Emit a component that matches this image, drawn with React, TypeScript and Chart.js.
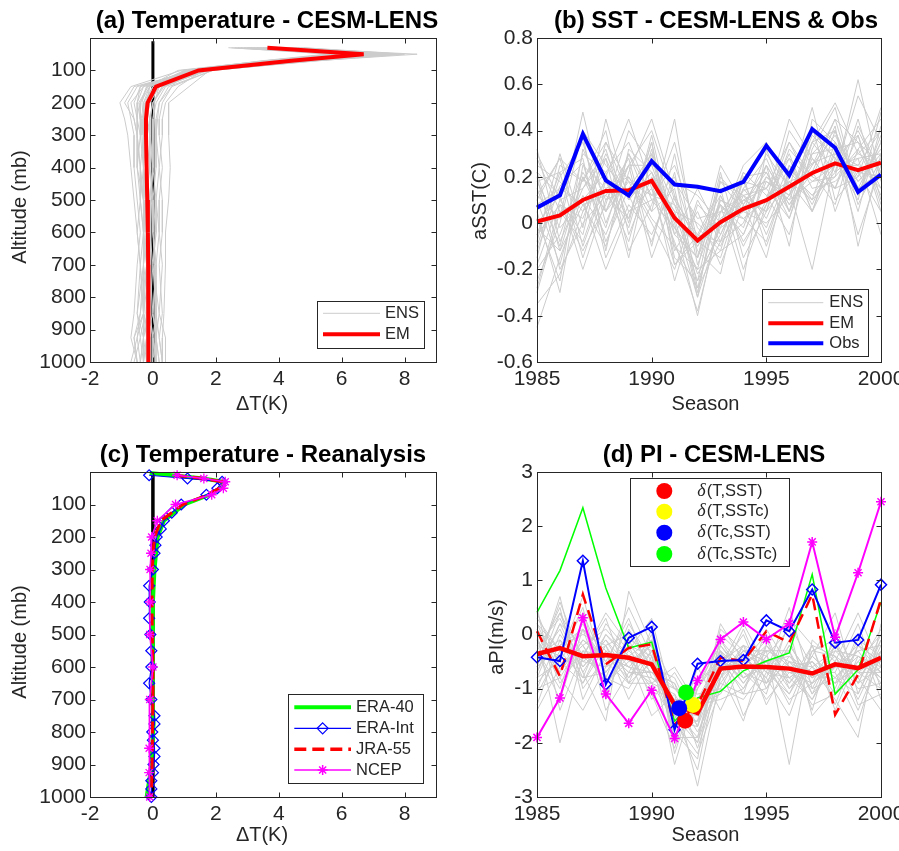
import React, { useEffect, useRef } from 'react';
import { Chart, registerables } from 'chart.js';

Chart.register(...registerables);

const W = 899;
const H = 851;
const FONT = "'Liberation Sans', Arial, Helvetica, sans-serif";
const SERIF = "'Liberation Serif', 'DejaVu Serif', serif";
const AXIS = '#262626';
const GREY = '#cccccc';
const YW = 60;
const XH = 40;
const TICK_SIZE = 21;

// ---------------- Panel (a): Temperature - CESM-LENS ----------------
const levelsA = [30, 50, 70, 100, 150, 200, 250, 300, 400, 500, 600, 700, 850, 925, 1000];
const emA = [3.64, 6.7, 4.4, 1.45, 0.1, -0.17, -0.22, -0.22, -0.2, -0.18, -0.16, -0.15, -0.15, -0.14, -0.14];
const ensA = [
  [2.4, 6.0, 3.8, 1.0, -0.1, -0.3, -0.3, -0.3, -0.2, -0.2, -0.1, -0.2, -0.3, -0.1, -0.2],
  [3.0, 7.2, 4.9, 1.7, 0.3, 0.0, -0.1, -0.1, 0.0, -0.1, -0.2, -0.1, 0.0, -0.2, -0.1],
  [4.2, 8.4, 5.2, 1.9, 0.5, 0.2, 0.1, 0.1, 0.1, 0.0, 0.0, 0.1, 0.1, 0.2, 0.3],
  [3.5, 6.4, 4.1, 1.2, -0.4, -0.6, -0.5, -0.5, -0.4, -0.4, -0.3, -0.3, -0.4, -0.5, -0.4],
  [3.9, 7.0, 4.6, 1.5, 0.2, -0.1, -0.2, -0.2, -0.1, -0.2, -0.1, 0.0, -0.1, 0.0, 0.1],
  [2.8, 5.8, 3.6, 0.9, -0.7, -1.05, -0.9, -0.8, -0.7, -0.6, -0.5, -0.4, -0.3, -0.6, -0.5],
  [4.6, 7.6, 5.0, 1.8, 1.15, 0.5, 0.5, 0.5, 0.55, 0.5, 0.4, 0.4, 0.35, 0.3, 0.3],
  [3.2, 6.8, 4.3, 1.4, 0.0, -0.2, -0.3, -0.2, -0.3, -0.3, -0.2, -0.2, -0.2, -0.3, -0.2],
  [3.7, 6.2, 4.5, 1.3, -0.2, -0.4, -0.4, -0.4, -0.3, -0.2, -0.3, -0.2, -0.1, -0.2, -0.3],
  [4.0, 7.4, 4.8, 1.6, 0.4, 0.1, 0.0, 0.0, -0.1, 0.0, 0.1, 0.0, 0.1, 0.1, 0.0],
  [2.6, 6.6, 3.9, 1.1, -0.3, -0.5, -0.5, -0.4, -0.5, -0.3, -0.2, -0.3, -0.5, -0.4, -0.6],
  [3.4, 7.8, 4.7, 1.6, 0.1, -0.2, -0.1, -0.2, -0.2, -0.1, -0.1, -0.2, -0.2, -0.1, -0.1],
  [4.4, 6.9, 4.2, 1.3, -0.5, -0.8, -0.7, -0.6, -0.6, -0.5, -0.4, -0.5, -0.6, -0.7, -0.5],
  [3.1, 5.5, 3.5, 1.0, 0.6, 0.3, 0.2, 0.2, 0.3, 0.2, 0.2, 0.3, 0.2, 0.4, 0.4],
  [3.8, 7.1, 4.4, 1.5, 0.0, -0.3, -0.3, -0.3, -0.2, -0.3, -0.2, -0.1, -0.2, -0.2, -0.3],
  [2.9, 6.3, 4.0, 1.2, 0.3, 0.0, -0.1, -0.1, -0.1, 0.0, 0.0, 0.1, 0.0, 0.1, 0.2],
  [4.8, 8.0, 5.3, 1.8, 0.2, -0.1, -0.2, -0.1, 0.0, -0.1, -0.1, -0.1, -0.1, 0.0, 0.0],
  [3.3, 6.5, 4.1, 1.4, -0.6, -0.9, -0.6, -0.5, -0.5, -0.4, -0.5, -0.4, -0.3, -0.5, -0.7],
  [3.6, 7.3, 4.6, 1.6, 0.8, 0.4, 0.3, 0.3, 0.2, 0.3, 0.3, 0.2, 0.3, 0.2, 0.3],
  [4.1, 6.1, 4.0, 1.1, -0.1, -0.4, -0.4, -0.3, -0.4, -0.3, -0.3, -0.3, -0.3, -0.3, -0.4],
  [3.0, 6.7, 4.2, 1.3, -0.2, -0.35, -0.3, -0.3, -0.3, -0.2, -0.2, -0.1, -0.3, -0.2, -0.2],
  [4.3, 7.5, 4.9, 1.7, 0.1, -0.15, -0.2, -0.2, -0.2, -0.3, -0.2, -0.3, -0.1, -0.3, -0.4],
  [2.7, 6.2, 3.7, 1.0, 0.2, 0.05, 0.0, 0.0, 0.0, 0.1, 0.1, 0.0, 0.2, 0.1, 0.1],
  [3.5, 6.9, 4.5, 1.5, -0.3, -0.7, -0.6, -0.5, -0.4, -0.3, -0.3, -0.4, -0.5, -0.3, -0.3],
  [4.5, 7.9, 5.1, 1.9, 0.6, 0.2, 0.15, 0.1, 0.2, 0.1, 0.2, 0.1, 0.0, 0.1, 0.2],
  [3.9, 6.0, 3.9, 1.2, -0.4, -0.5, -0.4, -0.3, -0.3, -0.4, -0.3, -0.2, -0.4, -0.6, -0.5],
  [3.3, 7.0, 4.4, 1.4, 0.0, -0.25, -0.25, -0.25, -0.2, -0.2, -0.15, -0.2, -0.2, -0.2, -0.1],
  [2.5, 5.7, 3.6, 0.8, -0.15, -0.45, -0.35, -0.3, -0.2, -0.1, -0.1, -0.1, -0.2, -0.1, -0.2],
  [4.7, 7.7, 5.2, 1.7, 0.35, 0.0, 0.05, 0.0, 0.0, -0.05, 0.0, 0.05, 0.1, 0.0, 0.1],
  [3.6, 6.6, 4.3, 1.3, -0.1, -0.2, -0.35, -0.35, -0.3, -0.25, -0.25, -0.3, -0.25, -0.4, -0.3],
];
const zeroLevels = [10, 1000];
const zeroX = [0, 0];

// ---------------- Panel (b): SST ----------------
const years = [1985, 1986, 1987, 1988, 1989, 1990, 1991, 1992, 1993, 1994, 1995, 1996, 1997, 1998, 1999, 2000];
const emB = [0.007, 0.033, 0.10, 0.139, 0.142, 0.183, 0.022, -0.075, 0.004, 0.062, 0.099, 0.157, 0.217, 0.258, 0.229, 0.261];
const obsB = [0.067, 0.12, 0.385, 0.185, 0.12, 0.268, 0.167, 0.157, 0.138, 0.178, 0.335, 0.207, 0.406, 0.326, 0.135, 0.21];
const ensB = [
  [0.25, 0.18, 0.05, 0.30, 0.10, 0.22, -0.05, -0.15, 0.10, 0.05, 0.20, 0.12, 0.35, 0.22, 0.30, 0.40],
  [-0.20, -0.05, 0.22, 0.05, 0.30, 0.12, 0.08, -0.22, -0.05, 0.15, 0.02, 0.25, 0.10, 0.40, 0.15, 0.22],
  [0.10, 0.28, -0.10, 0.18, 0.02, 0.35, -0.12, 0.05, -0.18, 0.08, 0.22, 0.05, 0.28, 0.15, 0.45, 0.10],
  [-0.45, -0.15, 0.12, -0.05, 0.20, 0.05, 0.15, -0.30, 0.12, -0.10, 0.10, 0.30, 0.05, 0.35, 0.20, 0.32],
  [0.05, -0.30, 0.25, 0.15, -0.08, 0.28, 0.02, -0.10, 0.05, 0.18, -0.05, 0.20, 0.40, 0.28, 0.10, 0.48],
  [0.30, 0.10, -0.05, 0.35, 0.18, 0.00, -0.20, 0.10, -0.08, 0.00, 0.25, 0.08, 0.22, 0.45, 0.35, 0.15],
  [-0.10, 0.20, 0.35, 0.00, 0.25, 0.40, 0.10, -0.05, 0.15, -0.20, 0.08, 0.35, 0.15, 0.18, 0.28, 0.30],
  [-0.30, 0.05, 0.10, -0.20, 0.05, 0.15, -0.08, -0.38, 0.02, 0.10, 0.15, 0.02, 0.30, 0.32, -0.05, 0.25],
  [0.15, -0.10, 0.30, 0.22, 0.35, 0.10, 0.20, -0.12, -0.22, 0.20, -0.10, 0.18, 0.10, 0.22, 0.55, 0.35],
  [0.00, 0.12, -0.20, 0.10, 0.15, 0.30, -0.15, -0.25, 0.18, 0.05, 0.30, 0.15, 0.50, 0.10, 0.22, 0.05],
  [-0.15, 0.25, 0.18, 0.40, -0.05, 0.20, 0.05, 0.00, -0.10, 0.12, 0.05, 0.40, 0.25, 0.38, 0.18, 0.28],
  [0.20, -0.20, 0.00, 0.12, 0.28, -0.10, 0.30, -0.18, 0.08, -0.05, 0.18, 0.10, 0.18, 0.25, 0.40, 0.20],
  [-0.25, 0.00, 0.40, 0.25, 0.12, 0.18, -0.25, 0.08, -0.02, 0.22, 0.12, -0.05, 0.32, 0.50, 0.12, 0.38],
  [0.08, 0.15, 0.08, -0.10, 0.22, 0.45, 0.12, -0.32, 0.20, 0.08, -0.15, 0.25, 0.08, 0.30, 0.25, 0.15],
  [0.32, -0.08, 0.15, 0.28, -0.12, 0.08, 0.35, -0.08, -0.15, 0.15, 0.28, 0.05, 0.42, 0.05, 0.32, 0.45],
  [-0.05, 0.08, -0.12, 0.08, 0.40, 0.25, -0.02, -0.20, 0.22, -0.15, 0.05, 0.32, 0.20, 0.42, -0.10, 0.30],
  [0.18, 0.22, 0.28, -0.15, 0.08, -0.05, 0.18, 0.12, 0.00, 0.25, 0.35, 0.15, -0.20, 0.28, 0.38, 0.08],
  [-0.35, -0.22, 0.05, 0.18, -0.02, 0.32, -0.10, -0.28, 0.10, 0.02, 0.10, 0.45, 0.28, 0.15, 0.20, 0.50],
  [0.12, 0.02, 0.48, 0.05, 0.18, 0.12, 0.25, -0.02, -0.12, -0.05, 0.20, 0.10, 0.35, 0.52, 0.30, 0.25],
  [-0.08, 0.30, -0.02, 0.45, 0.10, 0.22, 0.00, -0.40, 0.05, 0.12, -0.02, 0.22, 0.12, 0.20, 0.62, 0.18],
  [0.22, -0.12, 0.20, -0.02, 0.30, 0.05, 0.45, -0.15, 0.25, 0.08, 0.25, -0.10, 0.45, 0.35, 0.05, 0.42],
  [-0.18, 0.10, 0.15, 0.32, 0.00, 0.38, -0.05, 0.15, -0.05, 0.18, 0.15, 0.28, 0.05, 0.25, 0.28, -0.05],
  [0.02, -0.25, 0.32, 0.10, 0.25, -0.15, 0.12, -0.10, 0.08, -0.25, 0.32, 0.05, 0.30, 0.40, 0.15, 0.35],
  [0.28, 0.05, -0.08, 0.20, 0.45, 0.15, -0.18, -0.05, -0.08, 0.10, 0.05, 0.18, 0.22, 0.08, 0.42, 0.22],
  [-0.12, 0.16, 0.26, -0.08, 0.15, 0.18, 0.02, -0.32, 0.00, 0.14, 0.18, 0.12, 0.26, 0.30, 0.18, 0.30],
  [0.18, -0.02, 0.10, 0.22, -0.15, 0.30, 0.08, -0.06, 0.12, -0.08, 0.08, 0.28, 0.18, 0.20, 0.32, 0.12],
  [-0.05, 0.22, -0.15, 0.15, 0.20, 0.02, -0.10, -0.20, -0.12, 0.20, 0.22, 0.02, 0.35, 0.40, 0.08, 0.28],
  [0.10, -0.18, 0.20, 0.05, 0.25, 0.25, 0.18, 0.02, 0.05, 0.02, -0.08, 0.22, 0.12, 0.25, 0.25, 0.40],
  [-0.28, 0.08, 0.02, 0.28, 0.05, 0.10, -0.02, -0.15, 0.18, 0.12, 0.15, 0.35, 0.20, 0.15, 0.38, 0.05],
  [0.22, 0.12, 0.38, -0.12, 0.32, 0.22, 0.05, -0.25, -0.02, 0.05, 0.00, 0.12, 0.38, 0.28, 0.22, 0.20],
  [-0.02, -0.12, 0.08, 0.12, 0.02, 0.35, -0.18, -0.08, 0.08, -0.02, 0.25, 0.08, 0.25, 0.45, 0.12, 0.35],
  [0.12, 0.28, 0.18, 0.35, 0.12, -0.08, 0.22, -0.28, -0.08, 0.22, 0.12, 0.18, 0.05, 0.32, 0.35, 0.25],
];

// ---------------- Panel (c): Temperature - Reanalysis ----------------
const levelsEra40 = [3, 10, 20, 30, 50, 70, 100, 150, 200, 250, 300, 400, 500, 600, 700, 775, 850, 925, 1000];
const era40C = [-0.1, 0.6, 1.6, 2.25, 2.15, 1.8, 1.0, 0.35, 0.15, 0.1, 0.05, 0.0, -0.02, 0.0, 0.0, 0.02, -0.02, -0.08, -0.2];
const levelsEraInt = [10, 20, 30, 50, 70, 100, 125, 150, 175, 200, 225, 250, 300, 350, 400, 450, 500, 550, 600, 650, 700, 750, 775, 800, 825, 850, 875, 900, 925, 950, 975, 1000];
const eraIntC = [-0.12, 1.1, 2.2, 2.05, 1.7, 0.9, 0.6, 0.35, 0.25, 0.12, 0.08, 0.05, 0.0, -0.12, -0.1, -0.12, -0.08, -0.05, -0.05, -0.12, -0.05, 0.05, 0.05, -0.02, 0.0, 0.05, 0.05, 0.02, 0.0, -0.05, -0.05, -0.05];
const levelsJra = [10, 20, 30, 50, 70, 100, 150, 200, 250, 300, 400, 500, 600, 700, 850, 925, 1000];
const jraC = [0.7, 1.6, 2.2, 2.1, 1.75, 0.95, 0.25, 0.05, 0.0, -0.02, -0.03, -0.02, 0.0, 0.0, -0.02, -0.03, -0.05];
const levelsNcep = [10, 20, 30, 50, 70, 100, 150, 200, 250, 300, 400, 500, 600, 700, 850, 925, 1000];
const ncepC = [0.77, 1.62, 2.3, 2.24, 1.87, 0.72, 0.14, -0.04, -0.06, -0.09, -0.09, -0.1, 0.0, -0.1, -0.12, -0.12, -0.1];

// ---------------- Panel (d): PI - CESM-LENS ----------------
const emD = [-0.36, -0.25, -0.4, -0.38, -0.43, -0.55, -1.3, -1.45, -0.63, -0.59, -0.6, -0.63, -0.72, -0.55, -0.62, -0.43];
const era40D = [0.41, 1.18, 2.34, 0.86, -0.25, -0.14, -1.6, -1.17, -1.05, -0.67, -0.49, -0.34, 1.11, -1.1, -0.65, 0.6];
const eraIntD = [-0.42, -0.49, 1.36, -0.92, -0.06, 0.14, -1.76, -0.54, -0.49, -0.47, 0.26, 0.06, 0.83, -0.15, -0.1, 0.92];
const jraD = [0.06, -0.77, 0.74, -0.55, -0.25, -0.18, -1.66, -1.3, -0.43, -0.49, 0.06, -0.15, 0.74, -1.48, -0.74, 0.65];
const ncepD = [-1.9, -1.17, 0.31, -1.1, -1.64, -1.03, -1.92, -0.85, -0.09, 0.23, -0.09, 0.2, 1.71, -0.05, 1.14, 2.45];
const ensD = [
  [-0.2, 0.3, -0.6, -0.1, -0.8, -0.3, -1.6, -1.2, -0.4, -0.9, -0.3, -0.5, -1.0, -0.2, -0.9, -0.6],
  [-0.8, -0.5, 0.2, -0.7, -0.1, -0.9, -1.1, -1.8, -0.9, -0.3, -0.7, -1.1, -0.4, -0.8, -0.3, -0.2],
  [0.1, -0.9, -0.3, -0.4, -0.6, -0.2, -1.9, -1.0, -0.3, -0.7, -0.9, -0.2, -0.8, -0.4, -1.0, -0.9],
  [-0.5, 0.1, -0.8, 0.2, -0.3, -0.7, -0.9, -2.1, -0.8, -0.2, -0.4, -0.8, -0.5, -1.1, -0.5, 0.0],
  [-1.1, -0.3, 0.4, -0.6, 0.5, -0.4, -1.4, -1.5, -0.5, -1.0, -0.2, -0.6, -1.2, -0.3, -0.7, -0.7],
  [0.4, -0.6, -0.2, -0.9, -0.4, -1.0, -1.2, -1.3, -1.1, -0.4, -0.8, 0.2, -0.6, -0.9, -0.1, -0.4],
  [-0.6, 0.6, -0.5, -0.2, -0.9, 0.1, -2.2, -0.9, -0.2, -0.8, -0.5, -1.3, -0.3, -0.1, -1.3, -1.1],
  [-0.3, -1.2, 0.1, -1.1, -0.2, -0.6, -0.8, -1.7, -0.6, 0.0, -1.0, -0.4, -0.9, -0.6, -0.6, 0.1],
  [-1.3, -0.1, -0.9, 0.0, -0.5, -0.5, -1.5, -2.5, -0.4, -0.6, -0.1, -0.9, -0.2, -1.3, -0.2, -0.5],
  [0.2, -0.7, -0.1, -0.5, 0.3, -0.8, -1.0, -1.1, -1.0, -1.2, -0.6, -0.3, -1.4, 0.1, -0.8, -1.4],
  [-0.4, 0.5, -1.2, -0.3, -0.7, 0.0, -1.7, -1.6, 0.2, -0.5, -1.2, -0.7, -0.7, -0.7, -1.6, -0.3],
  [-0.9, -0.4, 0.7, -0.8, -1.0, -0.3, -1.3, -2.0, -0.7, -0.3, -0.3, -2.4, -0.1, -0.5, 0.4, -0.6],
  [0.0, -2.0, -0.4, 0.4, -0.2, -1.2, -0.7, -1.4, -0.3, -1.5, -0.7, 0.5, -1.0, -0.8, -0.4, -0.8],
  [-0.7, 0.2, -0.7, -1.6, 0.8, -0.2, -2.0, -0.6, -1.4, -0.5, 0.0, -1.0, -0.6, -1.2, -1.9, 0.2],
  [-0.1, -0.8, -1.4, -0.6, -0.4, -1.5, -1.1, -2.8, -0.8, 0.1, -0.9, -0.1, -1.1, -0.2, -0.7, -1.0],
  [-0.5, -0.2, 0.0, -0.2, -1.2, -0.4, -2.4, -1.0, -0.1, -0.8, -0.5, -0.9, -0.4, 0.4, -1.1, -0.1],
  [0.5, -1.4, -0.3, -0.9, -0.3, 0.3, -1.4, -1.9, -0.5, -0.2, -1.3, -0.5, -0.8, -0.6, -0.2, -0.5],
  [-1.0, 0.0, -0.6, -0.1, -0.6, -0.9, -0.6, -1.3, -1.2, -1.0, -0.4, 0.1, -1.5, -1.0, 0.0, -1.2],
  [-0.2, -0.4, 0.5, -1.2, 0.1, -0.6, -1.8, -2.3, 0.0, -0.4, -0.8, -1.5, -0.3, -0.4, -1.2, -0.3],
  [-0.6, 0.7, -1.0, -0.4, -0.8, -0.1, -1.0, -1.5, -0.9, -1.1, 0.1, -0.6, -0.5, -0.9, -0.5, -0.8],
  [-1.4, -0.6, -0.2, 0.1, -0.4, -1.1, -2.1, -0.8, -0.6, 0.2, -0.6, -1.2, -0.9, -0.1, -0.9, 0.0],
  [0.3, -0.3, -0.8, -0.7, -0.1, -0.3, -1.5, -2.0, -0.2, -0.7, -1.1, 0.3, -0.2, -1.4, -0.4, -0.7],
  [-0.3, -1.0, 0.3, -1.4, -0.7, -0.7, -1.2, -1.2, -0.7, -1.6, -0.2, -0.8, -1.2, -0.5, -1.4, -0.4],
  [-0.7, 0.4, -0.4, 0.3, -0.9, -0.5, -1.6, -1.7, 0.1, -0.3, -0.5, -0.4, -0.7, -0.7, 0.2, -1.0],
  [-0.4, -0.1, -0.5, -0.6, -0.2, -0.4, -1.5, -1.6, -0.5, -0.8, -0.6, -0.7, -0.9, -0.5, -0.8, -0.3],
  [-0.1, -0.7, 0.1, -0.3, -0.7, -0.8, -1.2, -1.4, -0.8, -0.4, -0.9, -0.5, -0.6, -0.3, -0.4, -0.6],
  [-0.8, 0.2, -0.2, -0.9, -0.5, -0.2, -1.9, -1.9, -0.3, -0.9, -0.4, -1.0, -0.4, -0.8, -1.1, -0.2],
  [0.1, -0.5, -0.9, -0.2, 0.0, -0.6, -1.0, -1.2, -0.6, -0.5, -0.3, -0.3, -1.1, -0.6, -0.3, -0.9],
  [-0.6, -0.2, 0.1, -0.5, -0.9, -0.9, -1.6, -2.2, -1.0, -0.2, -0.7, -0.8, -0.5, -0.9, -0.6, -0.5],
  [-0.3, 0.4, -0.7, 0.0, -0.4, -0.1, -1.3, -1.0, -0.4, -1.1, -1.0, -0.2, -0.8, -0.2, -0.9, -0.1],
  [-1.0, -0.8, -0.1, -0.4, -0.6, -0.7, -0.9, -1.7, -0.1, -0.6, -0.2, -0.6, -1.3, -1.1, -0.2, -0.7],
  [0.2, -0.3, -0.4, -0.8, 0.2, -0.5, -1.7, -1.3, -0.7, -0.3, -0.5, -1.1, -0.2, -0.4, -0.7, -0.4],
];
const deltaLabels = ['T,SST', 'T,SSTc', 'Tc,SST', 'Tc,SSTc'];
const deltaX = [1991.46, 1991.8, 1991.2, 1991.5];
const deltaY = [-1.59, -1.3, -1.36, -1.07];
const deltaColors = ['#ff0000', '#ffff00', '#0000ff', '#00ff00'];
const deltaDrawOrder = [0, 1, 3, 2];

// ---------------- helpers ----------------
const prof = (xs: number[], levels: number[]) => xs.map((v, i) => ({ x: v, y: levels[i] }));
const ts = (vals: number[]) => vals.map((v, i) => ({ x: years[i], y: v }));

function lineDs(data: any[], color: string, width: number, extra: any = {}) {
  return {
    data,
    borderColor: color,
    backgroundColor: color,
    borderWidth: width,
    pointRadius: 0,
    tension: 0,
    fill: false,
    clip: 8,
    ...extra,
  };
}

type Area = { l: number; t: number; r: number; b: number };
type LegendItem = {
  label: string;
  kind: 'line' | 'circle';
  color: string;
  width?: number;
  dash?: number[];
  marker?: 'diamond' | 'star';
  delta?: boolean;
};
type Spec = {
  area: Area;
  title: string;
  titleX: number;
  titleY: number;
  xTitle: string;
  xTitleX: number;
  xTitleY: number;
  yTitle: string;
  yTitleX: number;
  yTitleY: number;
  legend: {
    box: number[];
    x0: number;
    x1: number;
    textX: number;
    rows: number[];
    items: LegendItem[];
  };
};

function drawDiamond(ctx: CanvasRenderingContext2D, x: number, y: number, r: number) {
  ctx.beginPath();
  ctx.moveTo(x, y - r);
  ctx.lineTo(x + r, y);
  ctx.lineTo(x, y + r);
  ctx.lineTo(x - r, y);
  ctx.closePath();
  ctx.stroke();
}
function drawStar(ctx: CanvasRenderingContext2D, x: number, y: number, r: number) {
  const d = r * Math.SQRT1_2;
  ctx.beginPath();
  ctx.moveTo(x - r, y); ctx.lineTo(x + r, y);
  ctx.moveTo(x, y - r); ctx.lineTo(x, y + r);
  ctx.moveTo(x - d, y - d); ctx.lineTo(x + d, y + d);
  ctx.moveTo(x - d, y + d); ctx.lineTo(x + d, y - d);
  ctx.stroke();
}

function decoPlugin(spec: Spec) {
  return {
    id: 'deco',
    afterDraw(chart: any) {
      const ctx: CanvasRenderingContext2D = chart.ctx;
      const a = chart.chartArea;
      ctx.save();
      ctx.strokeStyle = AXIS;
      ctx.lineWidth = 1;
      ctx.setLineDash([]);
      const L = Math.round(a.left) + 0.5, T = Math.round(a.top) + 0.5;
      const R = Math.round(a.right) + 0.5, B = Math.round(a.bottom) + 0.5;
      ctx.strokeRect(L, T, R - L, B - T);
      const TL = 5;
      const xs = chart.scales.x, ys = chart.scales.y;
      ctx.beginPath();
      xs.ticks.forEach((t: any) => {
        const p = Math.round(xs.getPixelForValue(t.value)) + 0.5;
        ctx.moveTo(p, B); ctx.lineTo(p, B - TL);
        ctx.moveTo(p, T); ctx.lineTo(p, T + TL);
      });
      ys.ticks.forEach((t: any) => {
        const p = Math.round(ys.getPixelForValue(t.value)) + 0.5;
        ctx.moveTo(L, p); ctx.lineTo(L + TL, p);
        ctx.moveTo(R, p); ctx.lineTo(R - TL, p);
      });
      ctx.stroke();

      ctx.fillStyle = '#000';
      ctx.textAlign = 'center';
      ctx.textBaseline = 'middle';
      ctx.font = `bold 24px ${FONT}`;
      ctx.fillText(spec.title, spec.titleX, spec.titleY);
      ctx.fillStyle = AXIS;
      ctx.font = `20px ${FONT}`;
      ctx.fillText(spec.xTitle, spec.xTitleX, spec.xTitleY);
      ctx.save();
      ctx.translate(spec.yTitleX, spec.yTitleY);
      ctx.rotate(-Math.PI / 2);
      ctx.fillText(spec.yTitle, 0, 0);
      ctx.restore();

      const lg = spec.legend;
      const [bx0, by0, bx1, by1] = lg.box;
      ctx.fillStyle = '#fff';
      ctx.fillRect(bx0, by0, bx1 - bx0, by1 - by0);
      ctx.strokeStyle = AXIS;
      ctx.lineWidth = 1;
      ctx.strokeRect(Math.round(bx0) + 0.5, Math.round(by0) + 0.5, Math.round(bx1 - bx0), Math.round(by1 - by0));
      lg.items.forEach((it, i) => {
        const y = lg.rows[i];
        if (it.kind === 'line') {
          ctx.strokeStyle = it.color;
          ctx.lineWidth = it.width || 1;
          ctx.setLineDash(it.dash || []);
          ctx.beginPath();
          ctx.moveTo(lg.x0, y);
          ctx.lineTo(lg.x1, y);
          ctx.stroke();
          ctx.setLineDash([]);
          const cx = (lg.x0 + lg.x1) / 2;
          if (it.marker === 'diamond') drawDiamond(ctx, cx, y, 5.5);
          if (it.marker === 'star') drawStar(ctx, cx, y, 5);
        } else {
          ctx.fillStyle = it.color;
          ctx.beginPath();
          ctx.arc(lg.x0, y, 8, 0, Math.PI * 2);
          ctx.fill();
        }
        ctx.fillStyle = AXIS;
        ctx.textAlign = 'left';
        ctx.textBaseline = 'middle';
        let tx = lg.textX;
        if (it.delta) {
          ctx.font = `italic 18px ${SERIF}`;
          ctx.fillText('δ', tx, y);
          tx += ctx.measureText('δ').width + 1;
          ctx.font = `16.5px ${FONT}`;
          ctx.fillText(`(${it.label})`, tx, y);
        } else {
          ctx.font = `16.5px ${FONT}`;
          ctx.fillText(it.label, tx, y);
        }
      });
      ctx.restore();
    },
  };
}

function makeConfig(spec: Spec, datasetsBottomToTop: any[], xOpts: any, yOpts: any, xFilter: (v: number) => boolean, yFilter: (v: number) => boolean, xFmt: (v: number) => string, yFmt: (v: number) => string) {
  const datasets = [...datasetsBottomToTop].reverse();
  return {
    type: 'line',
    data: { datasets },
    options: {
      responsive: false,
      animation: false,
      devicePixelRatio: 1,
      events: [],
      layout: {
        padding: {
          left: spec.area.l - YW,
          top: spec.area.t,
          right: W - spec.area.r,
          bottom: H - spec.area.b - XH,
        },
      },
      plugins: {
        legend: { display: false },
        title: { display: false },
        tooltip: { enabled: false },
      },
      scales: {
        x: {
          type: 'linear',
          position: 'bottom',
          ...xOpts,
          grid: { display: false, drawTicks: false },
          border: { display: false },
          ticks: {
            ...(xOpts.ticks || {}),
            font: { family: FONT, size: TICK_SIZE },
            color: AXIS,
            padding: 5,
            maxRotation: 0,
            autoSkip: false,
            callback: (v: number) => xFmt(v),
          },
          afterBuildTicks: (s: any) => { s.ticks = s.ticks.filter((t: any) => xFilter(t.value)); },
          afterFit: (s: any) => { s.height = XH; s.paddingLeft = 0; s.paddingRight = 0; },
        },
        y: {
          type: 'linear',
          position: 'left',
          ...yOpts,
          grid: { display: false, drawTicks: false },
          border: { display: false },
          ticks: {
            ...(yOpts.ticks || {}),
            font: { family: FONT, size: TICK_SIZE },
            color: AXIS,
            padding: 4,
            autoSkip: false,
            callback: (v: number) => yFmt(v),
          },
          afterBuildTicks: (s: any) => { s.ticks = s.ticks.filter((t: any) => yFilter(t.value)); },
          afterFit: (s: any) => { s.width = YW; s.paddingTop = 0; s.paddingBottom = 0; },
        },
      },
    },
    plugins: [decoPlugin(spec)],
  };
}

const fmt1 = (v: number) => {
  const r = Math.round(v * 10) / 10;
  return r === 0 ? '0' : String(r);
};
const fmtInt = (v: number) => {
  const r = Math.round(v);
  return r === 0 ? '0' : String(r);
};

const specA: Spec = {
  area: { l: 90, t: 38, r: 436, b: 362 },
  title: '(a) Temperature - CESM-LENS', titleX: 267, titleY: 21,
  xTitle: 'ΔT(K)', xTitleX: 262, xTitleY: 404,
  yTitle: 'Altitude (mb)', yTitleX: 20, yTitleY: 207,
  legend: {
    box: [316.7, 300.7, 423.3, 347.7], x0: 323, x1: 380, textX: 385, rows: [313.3, 334.3],
    items: [
      { label: 'ENS', kind: 'line', color: GREY, width: 1 },
      { label: 'EM', kind: 'line', color: '#ff0000', width: 4 },
    ],
  },
};
const specB: Spec = {
  area: { l: 537, t: 38, r: 881, b: 362 },
  title: '(b) SST - CESM-LENS & Obs', titleX: 716, titleY: 21,
  xTitle: 'Season', xTitleX: 705.5, xTitleY: 404,
  yTitle: 'aSST(C)', yTitleX: 480, yTitleY: 201,
  legend: {
    box: [761.7, 289.3, 867.7, 356], x0: 768.3, x1: 823.3, textX: 829.3, rows: [302.7, 323.3, 343.3],
    items: [
      { label: 'ENS', kind: 'line', color: GREY, width: 1 },
      { label: 'EM', kind: 'line', color: '#ff0000', width: 4 },
      { label: 'Obs', kind: 'line', color: '#0000ff', width: 4 },
    ],
  },
};
const specC: Spec = {
  area: { l: 90, t: 472, r: 436, b: 797 },
  title: '(c) Temperature - Reanalysis', titleX: 263, titleY: 455,
  xTitle: 'ΔT(K)', xTitleX: 262, xTitleY: 835,
  yTitle: 'Altitude (mb)', yTitleX: 20, yTitleY: 642,
  legend: {
    box: [288.3, 694.3, 423.3, 783.3], x0: 294.3, x1: 351, textX: 356, rows: [707.3, 728.3, 749.3, 770],
    items: [
      { label: 'ERA-40', kind: 'line', color: '#00ff00', width: 4 },
      { label: 'ERA-Int', kind: 'line', color: '#0000ff', width: 1.2, marker: 'diamond' },
      { label: 'JRA-55', kind: 'line', color: '#ff0000', width: 3.5, dash: [12, 6] },
      { label: 'NCEP', kind: 'line', color: '#ff00ff', width: 1.5, marker: 'star' },
    ],
  },
};
const specD: Spec = {
  area: { l: 537, t: 472, r: 881, b: 797 },
  title: '(d) PI - CESM-LENS', titleX: 714, titleY: 455,
  xTitle: 'Season', xTitleX: 705.5, xTitleY: 835,
  yTitle: 'aPI(m/s)', yTitleX: 497, yTitleY: 637,
  legend: {
    box: [630, 478.3, 789.3, 566.7], x0: 664.3, x1: 664.3, textX: 697.3, rows: [491, 511.7, 532.7, 554],
    items: deltaLabels.map((lab, i) => ({ label: lab, kind: 'circle' as const, color: deltaColors[i], delta: true })),
  },
};

function buildConfigs() {
  const profX = { min: -2, max: 9, ticks: { stepSize: 2 } };
  const profY = { min: 0, max: 1000, reverse: true, ticks: { stepSize: 100 } };
  const profXF = (v: number) => v >= -2 && v <= 8 && Math.abs(v % 2) < 1e-9;
  const profYF = (v: number) => v >= 100;
  const fmtX = (v: number) => String(Math.round(v));

  const dsA = [
    lineDs(prof(zeroX, zeroLevels), '#000000', 3),
    ...ensA.map((m) => lineDs(prof(m, levelsA), GREY, 1)),
    lineDs(prof(emA, levelsA), '#ff0000', 4),
  ];
  const cfgA = makeConfig(specA, dsA, profX, profY, profXF, profYF, fmtX, fmtX);

  const dsB = [
    ...ensB.map((m) => lineDs(ts(m), GREY, 1)),
    lineDs(ts(emB), '#ff0000', 4),
    lineDs(ts(obsB), '#0000ff', 4),
  ];
  const tsX = { min: 1985, max: 2000, ticks: { stepSize: 5 } };
  const tsXF = (v: number) => Math.abs(v % 5) < 1e-9;
  const cfgB = makeConfig(specB, dsB, tsX, { min: -0.6, max: 0.8, ticks: { stepSize: 0.2 } }, tsXF, () => true, fmtX, fmt1);

  const dsC = [
    lineDs(prof(zeroX, zeroLevels), '#000000', 3.5),
    lineDs(prof(era40C, levelsEra40), '#00ff00', 4),
    lineDs(prof(eraIntC, levelsEraInt), '#0000ff', 1.2, { pointRadius: 5.5, pointStyle: 'rectRot', pointBorderColor: '#0000ff', pointBackgroundColor: 'rgba(0,0,0,0)', pointBorderWidth: 1.2, clip: false }),
    lineDs(prof(jraC, levelsJra), '#ff0000', 3, { borderDash: [12, 6] }),
    lineDs(prof(ncepC, levelsNcep), '#ff00ff', 1.5, { pointRadius: 5, pointStyle: 'star', pointBorderColor: '#ff00ff', pointBorderWidth: 1.3, clip: false }),
  ];
  const cfgC = makeConfig(specC, dsC, profX, profY, profXF, profYF, fmtX, fmtX);

  const dsD = [
    ...ensD.map((m) => lineDs(ts(m), GREY, 1)),
    lineDs(ts(era40D), '#00ff00', 1.5),
    lineDs(ts(jraD), '#ff0000', 2.5, { borderDash: [12, 7] }),
    lineDs(ts(eraIntD), '#0000ff', 2, { pointRadius: 5.5, pointStyle: 'rectRot', pointBorderColor: '#0000ff', pointBackgroundColor: 'rgba(0,0,0,0)', pointBorderWidth: 1.5, clip: false }),
    lineDs(ts(ncepD), '#ff00ff', 2, { pointRadius: 5, pointStyle: 'star', pointBorderColor: '#ff00ff', pointBorderWidth: 1.5, clip: false }),
    lineDs(ts(emD), '#ff0000', 4.5),
    ...deltaDrawOrder.map((i) => ({
      data: [{ x: deltaX[i], y: deltaY[i] }],
      showLine: false,
      pointRadius: 8,
      pointStyle: 'circle',
      pointBackgroundColor: deltaColors[i],
      pointBorderColor: deltaColors[i],
      pointBorderWidth: 0,
      borderColor: deltaColors[i],
      backgroundColor: deltaColors[i],
      clip: false,
    })),
  ];
  const cfgD = makeConfig(specD, dsD, tsX, { min: -3, max: 3, ticks: { stepSize: 1 } }, tsXF, () => true, fmtX, fmtInt);

  return [cfgA, cfgB, cfgC, cfgD];
}

export default function App() {
  const r0 = useRef<HTMLCanvasElement>(null);
  const r1 = useRef<HTMLCanvasElement>(null);
  const r2 = useRef<HTMLCanvasElement>(null);
  const r3 = useRef<HTMLCanvasElement>(null);
  const refs = [r0, r1, r2, r3];

  useEffect(() => {
    const cfgs = buildConfigs();
    const charts = cfgs.map((cfg, i) => new Chart(refs[i].current as HTMLCanvasElement, cfg as any));
    return () => charts.forEach((c) => c.destroy());
  }, []);

  return (
    <div style={{ position: 'absolute', left: 0, top: 0, width: W, height: H, background: '#ffffff' }}>
      {refs.map((r, i) => (
        <canvas
          key={i}
          ref={r}
          width={W}
          height={H}
          style={{ position: 'absolute', left: 0, top: 0, width: W, height: H }}
        />
      ))}
    </div>
  );
}
